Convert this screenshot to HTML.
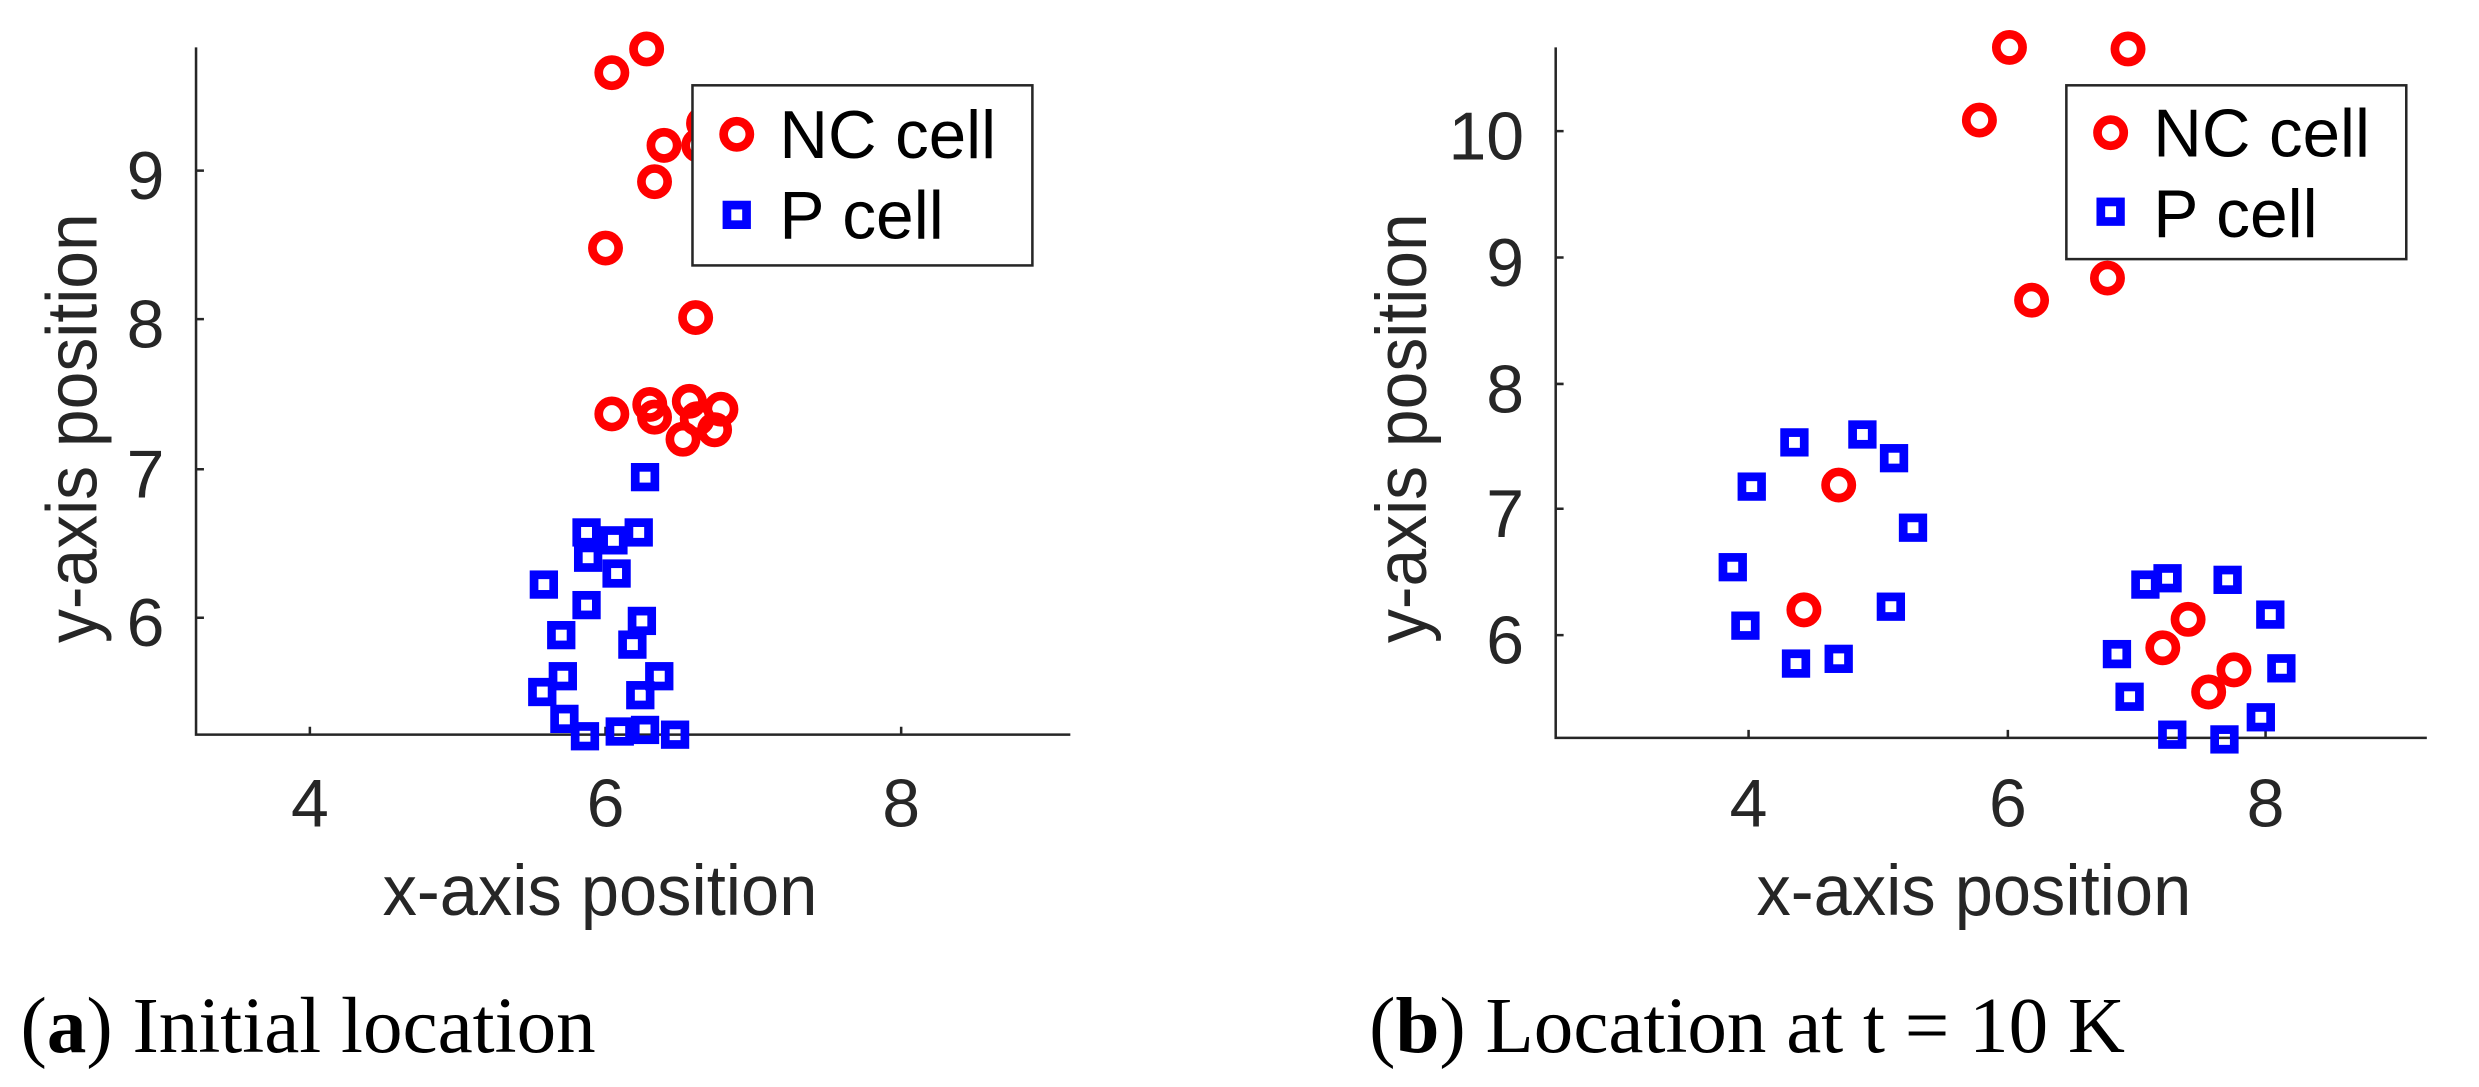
<!DOCTYPE html>
<html><head><style>html,body{margin:0;padding:0;background:#fff;width:2479px;height:1087px;overflow:hidden}</style></head>
<body>
<svg width="2479" height="1087" viewBox="0 0 1568 688" preserveAspectRatio="none" xmlns="http://www.w3.org/2000/svg" font-family="Liberation Sans, sans-serif">
<defs>
<g id="c"><circle r="8.3" fill="none" stroke="#ff0000" stroke-width="5.5"/></g>
<g id="s"><rect x="-6.2" y="-6.2" width="12.4" height="12.4" fill="none" stroke="#0000ff" stroke-width="5.5"/></g>
</defs>
<!-- Panel a -->
<g stroke="#262626" stroke-width="1.6" fill="none">
<path d="M124,30 V465 H677"/>
<path d="M196,465 v-5 M383,465 v-5 M570,465 v-5 M124,108 h5 M124,202 h5 M124,297 h5 M124,391 h5"/>
</g>
<g fill="#262626" font-size="43">
<text x="196" y="523" text-anchor="middle">4</text><text x="383" y="523" text-anchor="middle">6</text><text x="570" y="523" text-anchor="middle">8</text>
<text x="104" y="126" text-anchor="end">9</text><text x="104" y="220" text-anchor="end">8</text><text x="104" y="315" text-anchor="end">7</text><text x="104" y="409" text-anchor="end">6</text>
<text x="242" y="579" font-size="45" textLength="275" lengthAdjust="spacingAndGlyphs">x-axis position</text>
<text transform="translate(61,407) rotate(-90)" font-size="45" textLength="272" lengthAdjust="spacingAndGlyphs">y-axis position</text>
</g>
<g>
<use href="#c" x="409" y="31"/><use href="#c" x="387" y="46"/><use href="#c" x="442" y="92"/><use href="#c" x="420" y="92"/><use href="#c" x="414" y="115"/><use href="#c" x="383" y="157"/><use href="#c" x="440" y="201"/>
<use href="#c" x="387" y="262"/><use href="#c" x="411" y="256"/><use href="#c" x="414" y="264"/><use href="#c" x="436" y="254"/><use href="#c" x="456" y="259"/><use href="#c" x="452" y="272"/><use href="#c" x="432" y="278"/><use href="#c" x="441" y="265"/><use href="#c" x="445" y="78"/>
<use href="#s" x="408" y="302"/><use href="#s" x="371" y="337"/><use href="#s" x="388" y="342"/><use href="#s" x="404" y="337"/><use href="#s" x="372" y="353"/><use href="#s" x="390" y="363"/><use href="#s" x="344" y="370"/><use href="#s" x="371" y="383"/><use href="#s" x="406" y="393"/><use href="#s" x="355" y="402"/><use href="#s" x="400" y="408"/><use href="#s" x="356" y="428"/><use href="#s" x="417" y="428"/><use href="#s" x="405" y="440"/><use href="#s" x="343" y="438"/><use href="#s" x="357" y="455"/><use href="#s" x="370" y="466"/><use href="#s" x="392" y="463"/><use href="#s" x="408" y="462"/><use href="#s" x="427" y="465"/>
</g>
<rect x="438" y="54" width="215" height="114" fill="#fff" stroke="#262626" stroke-width="1.6"/>
<use href="#c" x="466" y="85"/><use href="#s" x="466" y="136"/>
<text x="493" y="100" font-size="43" textLength="137" lengthAdjust="spacingAndGlyphs">NC cell</text><text x="493" y="151" font-size="43" textLength="104" lengthAdjust="spacingAndGlyphs">P cell</text>
<text x="13" y="666" font-family="Liberation Serif, serif" font-size="50">(<tspan font-weight="bold">a</tspan>) Initial location</text>
<!-- Panel b -->
<g stroke="#262626" stroke-width="1.6" fill="none">
<path d="M984,30 V467 H1535"/>
<path d="M1106,467 v-5 M1270,467 v-5 M1433,467 v-5 M984,83 h5 M984,163 h5 M984,243 h5 M984,322 h5 M984,402 h5"/>
</g>
<g fill="#262626" font-size="43">
<text x="1106" y="523" text-anchor="middle">4</text><text x="1270" y="523" text-anchor="middle">6</text><text x="1433" y="523" text-anchor="middle">8</text>
<text x="964" y="101" text-anchor="end">10</text><text x="964" y="181" text-anchor="end">9</text><text x="964" y="261" text-anchor="end">8</text><text x="964" y="340" text-anchor="end">7</text><text x="964" y="420" text-anchor="end">6</text>
<text x="1111" y="579" font-size="45" textLength="275" lengthAdjust="spacingAndGlyphs">x-axis position</text>
<text transform="translate(902,407) rotate(-90)" font-size="45" textLength="272" lengthAdjust="spacingAndGlyphs">y-axis position</text>
</g>
<g>
<use href="#c" x="1271" y="30"/><use href="#c" x="1346" y="31"/><use href="#c" x="1252" y="76"/><use href="#c" x="1285" y="190"/><use href="#c" x="1333" y="176"/><use href="#c" x="1163" y="307"/><use href="#c" x="1141" y="386"/><use href="#c" x="1368" y="410"/><use href="#c" x="1384" y="392"/><use href="#c" x="1397" y="438"/><use href="#c" x="1413" y="424"/>
<use href="#s" x="1135" y="280"/><use href="#s" x="1178" y="275"/><use href="#s" x="1198" y="290"/><use href="#s" x="1108" y="308"/><use href="#s" x="1210" y="334"/><use href="#s" x="1096" y="359"/><use href="#s" x="1196" y="384"/><use href="#s" x="1104" y="396"/><use href="#s" x="1136" y="420"/><use href="#s" x="1163" y="417"/>
<use href="#s" x="1357" y="370"/><use href="#s" x="1371" y="366"/><use href="#s" x="1409" y="367"/><use href="#s" x="1436" y="389"/><use href="#s" x="1339" y="414"/><use href="#s" x="1347" y="441"/><use href="#s" x="1443" y="423"/><use href="#s" x="1430" y="454"/><use href="#s" x="1374" y="465"/><use href="#s" x="1407" y="468"/>
</g>
<rect x="1307" y="54" width="215" height="110" fill="#fff" stroke="#262626" stroke-width="1.6"/>
<use href="#c" x="1335" y="84"/><use href="#s" x="1335" y="134"/>
<text x="1362" y="99" font-size="43" textLength="137" lengthAdjust="spacingAndGlyphs">NC cell</text><text x="1362" y="150" font-size="43" textLength="104" lengthAdjust="spacingAndGlyphs">P cell</text>
<text x="866" y="666" font-family="Liberation Serif, serif" font-size="50">(<tspan font-weight="bold">b</tspan>) Location at t = 10 K</text>
</svg>
</body></html>
